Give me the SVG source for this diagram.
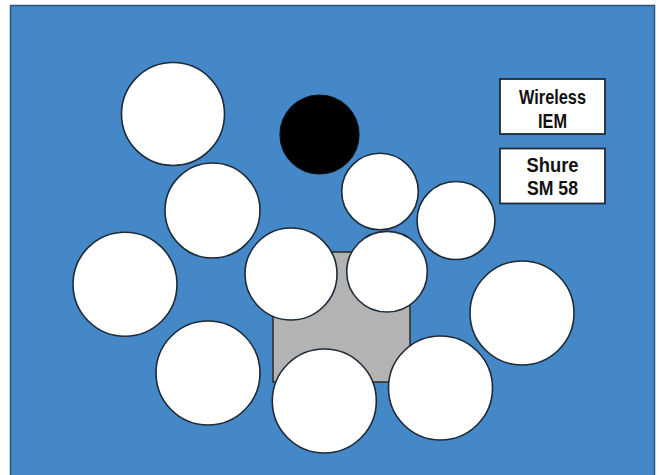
<svg xmlns="http://www.w3.org/2000/svg" width="659" height="475" viewBox="0 0 659 475">
<style>
.bg{fill:#4488c8;stroke:#2a5580;stroke-width:1.5}
.seat{fill:#ffffff;stroke:#1e2a38;stroke-width:1.6}
.black{fill:#000000;stroke:#111111;stroke-width:1.2}
.riser{fill:#b3b3b3;stroke:#2a2a2a;stroke-width:1.5}
.box{fill:#ffffff;stroke:#1e2a38;stroke-width:1.8}
.lbl{font-family:"Liberation Sans",Arial,sans-serif;font-weight:bold;font-size:21px;fill:#111111;text-anchor:middle}
</style>
<rect x="0" y="0" width="659" height="475" fill="#ffffff"/>
<rect class="bg" x="10.5" y="5.5" width="644" height="478"/>
<g id="riser"><rect class="riser" x="273" y="252" width="137" height="130"/></g>
<g id="seat1"><circle class="seat" cx="173" cy="114" r="51.5"/></g>
<g id="black"><circle class="black" cx="319.5" cy="134.5" r="39.5"/></g>
<g id="seat3"><circle class="seat" cx="212.5" cy="210.5" r="47.5"/></g>
<g id="seat4"><circle class="seat" cx="380" cy="191.5" r="38.3"/></g>
<g id="seat5"><circle class="seat" cx="456" cy="220.5" r="39"/></g>
<g id="seat6"><circle class="seat" cx="125" cy="284.2" r="52"/></g>
<g id="seat7"><circle class="seat" cx="291" cy="274" r="46"/></g>
<g id="seat8"><circle class="seat" cx="387" cy="271.7" r="40.3"/></g>
<g id="seat9"><circle class="seat" cx="522" cy="313" r="52"/></g>
<g id="seat10"><circle class="seat" cx="208" cy="373" r="52"/></g>
<g id="seat11"><circle class="seat" cx="324.3" cy="401" r="52"/></g>
<g id="seat12"><circle class="seat" cx="440.5" cy="388" r="52"/></g>
<g id="wireless"><rect class="box" x="500" y="79" width="105" height="55"/>
<text class="lbl" x="552.5" y="104" textLength="67" lengthAdjust="spacingAndGlyphs">Wireless</text><text class="lbl" x="552.5" y="128" textLength="29" lengthAdjust="spacingAndGlyphs">IEM</text></g>
<g id="shure"><rect class="box" x="500" y="148.5" width="105" height="55"/>
<text class="lbl" x="552.5" y="172" textLength="52" lengthAdjust="spacingAndGlyphs">Shure</text><text class="lbl" x="552.5" y="195" textLength="51" lengthAdjust="spacingAndGlyphs">SM 58</text></g>
<g id="connectors"></g>
</svg>
